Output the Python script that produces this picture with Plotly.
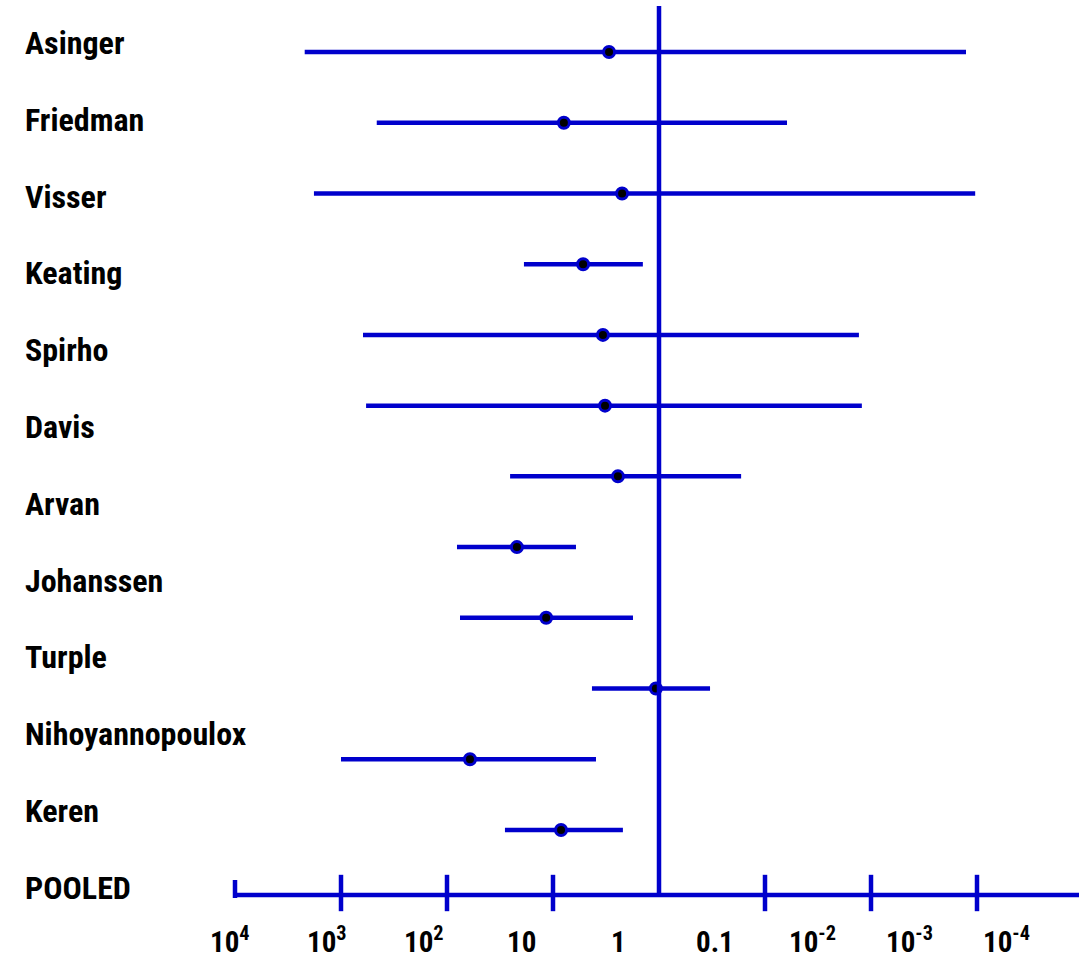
import math
import plotly.graph_objects as go

# Study rows, top to bottom
studies = ["Asinger", "Friedman", "Visser", "Keating", "Spirho", "Davis", "Arvan",
           "Johanssen", "Turple", "Nihoyannopoulox", "Keren", "POOLED"]
odds_ratio = [2.96, 7.9, 2.23, 5.2, 3.38, 3.23, 2.44, 21.9, 11.6, 1.07, 60.7, 8.4]
ci_upper = [2200, 460, 1800, 18.8, 620, 580, 25.4, 80.5, 75.4, 4.29, 1000, 28.4]
ci_lower = [0.00127, 0.062, 0.00104, 1.42, 0.013, 0.0122, 0.168, 6.07, 1.76, 0.33, 3.93, 2.19]

# Decade scale along the bottom
tick_values = [1e4, 1e3, 1e2, 10, 1, 0.1, 1e-2, 1e-3, 1e-4]
tick_labels = ["10<sup>4</sup>", "10<sup>3</sup>", "10<sup>2</sup>", "10", "1", "0.1",
               "10<sup>-2</sup>", "10<sup>-3</sup>", "10<sup>-4</sup>"]
null_value = 1

# ---- layout geometry (screen pixels) ----
W, H = 1079, 958
BLUE = "#0000CC"
LW = 4.5
NULL_PX, PX_PER_DECADE = 659, 106          # where x = 1 sits, spacing of decades
ROW0_PX, ROWN_PX = 52, 830                  # first / last interval rows
LABEL0_PX, LABEL_STEP = 43, 76.8            # study name rows
TICKLBL0_PX, TICKLBL_STEP = 230.4, 97.0     # decade label slots
AXIS_PX, NULL_TOP_PX = 895, 6               # baseline and top of the null line
FONT = "Roboto Condensed, Roboto, Liberation Sans, Arial"

n = len(studies)
row_idx = list(range(n))

fig = go.Figure()

# confidence intervals (left end is the upper limit on the reversed axis)
ci_x, ci_y = [], []
for i in row_idx:
    ci_x += [ci_upper[i], ci_lower[i], None]
    ci_y += [i, i, None]
fig.add_trace(go.Scatter(x=ci_x, y=ci_y, mode="lines",
                         line=dict(color=BLUE, width=LW), hoverinfo="skip"))

# point estimates
fig.add_trace(go.Scatter(x=odds_ratio, y=row_idx, mode="markers",
                         marker=dict(size=11, color="black",
                                     line=dict(color=BLUE, width=3)),
                         hoverinfo="skip"))

# null line at 1
fig.add_trace(go.Scatter(x=[null_value, null_value], y=[NULL_TOP_PX, AXIS_PX],
                         yaxis="y3", mode="lines",
                         line=dict(color=BLUE, width=LW), hoverinfo="skip"))

# baseline axis from the first to the last decade
fig.add_trace(go.Scatter(x=[tick_values[0], tick_values[-1]], y=[AXIS_PX, AXIS_PX],
                         yaxis="y3", mode="lines",
                         line=dict(color=BLUE, width=LW), hoverinfo="skip"))

# end cap at the first decade
fig.add_trace(go.Scatter(x=[tick_values[0], tick_values[0]], y=[AXIS_PX - 15, AXIS_PX + 3],
                         yaxis="y3", mode="lines",
                         line=dict(color=BLUE, width=LW), hoverinfo="skip"))

# crossing tick marks at the remaining decades
inner = [v for v in tick_values[1:] if v != null_value]
fig.add_trace(go.Scatter(x=inner, y=[AXIS_PX - 2] * len(inner), yaxis="y3",
                         mode="markers",
                         marker=dict(symbol="line-ns", size=26,
                                     line=dict(color=BLUE, width=LW)),
                         hoverinfo="skip"))

annotations = []
for i, name in enumerate(studies):
    annotations.append(dict(text="<b>%s</b>" % name, x=23 / W, xref="paper", xanchor="left",
                            y=1 - (LABEL0_PX + i * LABEL_STEP) / H, yref="paper",
                            yanchor="middle", showarrow=False,
                            font=dict(family=FONT, size=32, color="black")))
for i, lbl in enumerate(tick_labels):
    annotations.append(dict(text="<b>%s</b>" % lbl, x=i, xref="x2", xanchor="center",
                            y=1 - 961 / H, yref="paper", yanchor="bottom", showarrow=False,
                            font=dict(family=FONT, size=29, color="black")))

# axis ranges derived from the pixel geometry
x_range = [math.log10(null_value) + NULL_PX / PX_PER_DECADE,
           math.log10(null_value) - (W - NULL_PX) / PX_PER_DECADE]
row_step = (ROWN_PX - ROW0_PX) / (n - 1)
y_range = [(H - ROW0_PX) / row_step, -ROW0_PX / row_step]
x2_range = [-TICKLBL0_PX / TICKLBL_STEP, (W - TICKLBL0_PX) / TICKLBL_STEP]

fig.update_layout(
    width=W, height=H,
    margin=dict(l=0, r=0, t=0, b=0),
    paper_bgcolor="white", plot_bgcolor="white",
    showlegend=False,
    xaxis=dict(type="log", range=x_range, visible=False, fixedrange=True),
    xaxis2=dict(range=x2_range, overlaying="x", visible=False, fixedrange=True),
    yaxis=dict(range=y_range, visible=False, fixedrange=True),
    yaxis3=dict(range=[H, 0], overlaying="y", visible=False, fixedrange=True),
    annotations=annotations,
)

fig.write_html("out.html")
